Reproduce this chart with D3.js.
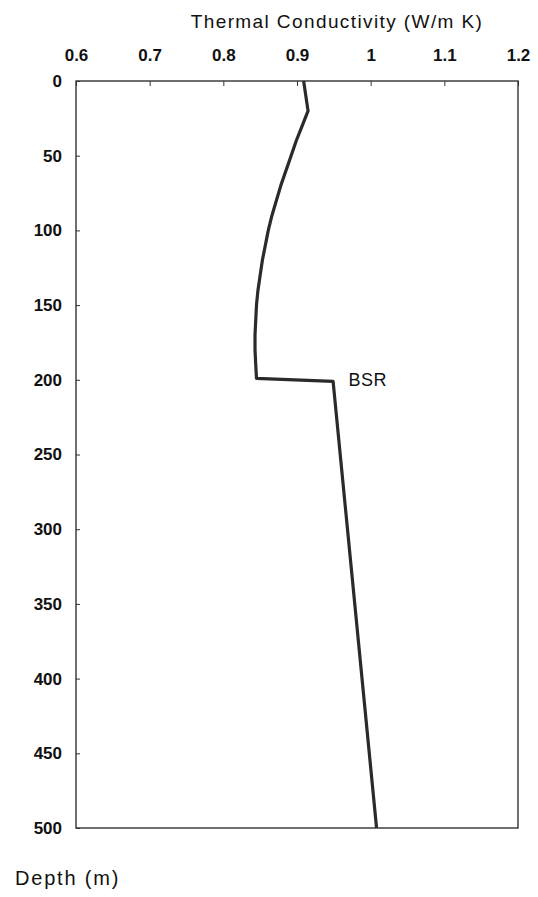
<!DOCTYPE html>
<html>
<head>
<meta charset="utf-8">
<script src="https://cdn.jsdelivr.net/npm/d3@7"></script>
<style>
  body { margin: 0; background: #fff; }
  text { font-family: "Liberation Sans", Arial, sans-serif; fill: #111; }
</style>
</head>
<body>
<div id="chart"></div>
<script>
// depth profile
const depths = [0, 20, 30, 40, 50, 60, 70, 80, 90, 100, 110, 120, 130, 140, 150, 160, 170, 180, 190, 199, 201, 500];
const conductivity = [0.909, 0.915, 0.907, 0.899, 0.892, 0.885, 0.878, 0.872, 0.866, 0.861, 0.857, 0.853, 0.850, 0.847, 0.845, 0.844, 0.843, 0.843, 0.844, 0.845, 0.949, 1.008];
const xTicks = [0.6, 0.7, 0.8, 0.9, 1.0, 1.1, 1.2];
const yTicks = [0, 50, 100, 150, 200, 250, 300, 350, 400, 450, 500];

const width = 538;
const height = 897;
const margin = { top: 81, right: 20, bottom: 69, left: 76 };
const innerWidth = width - margin.left - margin.right;
const innerHeight = height - margin.top - margin.bottom;

const x = d3.scaleLinear().domain([0.6, 1.2]).range([0, innerWidth]);
const y = d3.scaleLinear().domain([0, 500]).range([0, innerHeight]);

const svg = d3.select('#chart')
  .append('svg')
  .attr('width', width)
  .attr('height', height);

const plot = svg.append('g')
  .attr('transform', `translate(${margin.left},${margin.top})`);

plot.append('rect')
  .attr('width', innerWidth)
  .attr('height', innerHeight)
  .attr('fill', 'none')
  .attr('stroke', '#222')
  .attr('stroke-width', 1.3);

// top axis: labels above, ticks pointing into the plot
const xAxis = plot.append('g')
  .call(d3.axisTop(x).tickValues(xTicks).tickSize(-5).tickPadding(20)
    .tickFormat((d) => d3.format('')(+d.toFixed(1))));
xAxis.select('.domain').remove();
xAxis.selectAll('line').attr('stroke', '#333');
xAxis.selectAll('text')
  .attr('font-size', 17)
  .attr('font-weight', 700)
  .style('font-family', '"Liberation Sans", Arial, sans-serif')
  .attr('fill', '#111');

const yAxis = plot.append('g')
  .call(d3.axisLeft(y).tickValues(yTicks).tickSize(-4).tickPadding(14));
yAxis.select('.domain').remove();
yAxis.selectAll('line').attr('stroke', '#333');
yAxis.selectAll('text')
  .attr('font-size', 17)
  .attr('font-weight', 700)
  .style('font-family', '"Liberation Sans", Arial, sans-serif')
  .attr('fill', '#111');

const line = d3.line()
  .x((d, i) => x(conductivity[i]))
  .y((d) => y(d));

plot.append('path')
  .datum(depths)
  .attr('d', line)
  .attr('fill', 'none')
  .attr('stroke', '#2a2a2a')
  .attr('stroke-width', 3.2)
  .attr('stroke-linejoin', 'round');

plot.append('text')
  .attr('x', x(0.97))
  .attr('y', y(200) + 6)
  .attr('font-size', 18)
  .attr('letter-spacing', 0.5)
  .text('BSR');

svg.append('text')
  .attr('x', 337)
  .attr('y', 28)
  .attr('text-anchor', 'middle')
  .attr('font-size', 19)
  .attr('letter-spacing', 1.4)
  .text('Thermal Conductivity (W/m K)');

svg.append('text')
  .attr('x', 15)
  .attr('y', 885)
  .attr('font-size', 20)
  .attr('letter-spacing', 1.8)
  .text('Depth (m)');
</script>
</body>
</html>
